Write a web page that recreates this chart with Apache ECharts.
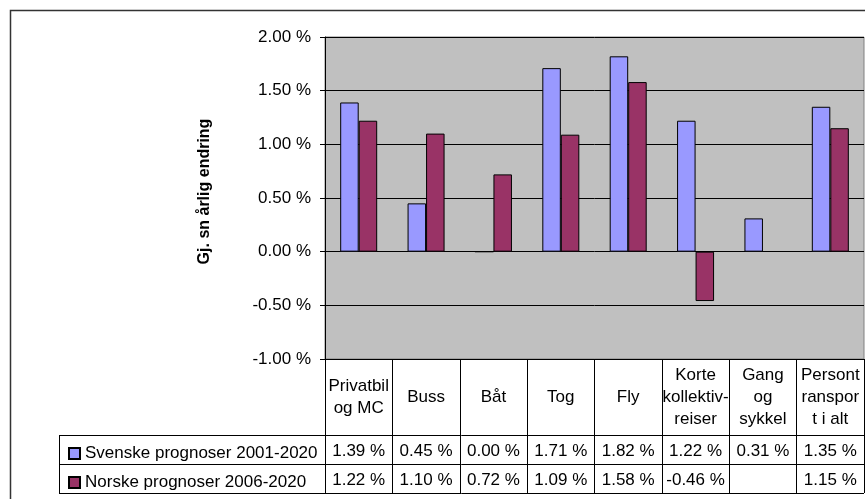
<!DOCTYPE html>
<html>
<head>
<meta charset="utf-8">
<script src="https://cdn.jsdelivr.net/npm/echarts@6/dist/echarts.min.js"></script>
<style>
  html, body { margin: 0; padding: 0; background: #fff; }
  #chart { width: 865px; height: 499px; }
</style>
</head>
<body>
<div id="chart"></div>
<script>
const categories = ['Privatbil\nog MC', 'Buss', 'Båt', 'Tog', 'Fly', 'Korte\nkollektiv-\nreiser', 'Gang\nog\nsykkel', 'Persont\nranspor\nt i alt'];
const seriesNames = ['Svenske prognoser 2001-2020', 'Norske prognoser 2006-2020'];
const svenske = [1.39, 0.45, 0.00, 1.71, 1.82, 1.22, 0.31, 1.35];
const norske = [1.22, 1.10, 0.72, 1.09, 1.58, -0.46, null, 1.15];
const yMin = -1, yMax = 2, yStep = 0.5;
const axisTitle = 'Gj. sn årlig endring';

const FONT = '"Liberation Sans", Arial, sans-serif';
const FS = 17;
const fmt = v => (v === null || v === undefined) ? '' : v.toFixed(2) + ' %';

const chart = echarts.init(document.getElementById('chart'));
chart.setOption({
  animation: false,
  textStyle: { fontFamily: FONT, color: '#000' },
  grid: {
    left: 325, right: 1, top: 37, bottom: 140,
    show: true, backgroundColor: '#C0C0C0', borderColor: '#808080', borderWidth: 1
  },
  legend: {
    orient: 'vertical', left: 63, top: 440, itemWidth: 11, itemHeight: 11, itemGap: 12,
    icon: 'rect', selectedMode: false,
    textStyle: { fontFamily: FONT, fontSize: FS, color: '#000' },
    data: seriesNames
  },
  xAxis: [
    {
      type: 'category', data: categories, position: 'bottom',
      axisLine: { onZero: false, lineStyle: { color: '#000', width: 1 } },
      axisTick: { show: true, length: 134, lineStyle: { color: '#000', width: 1 } },
      axisLabel: { interval: 0, margin: 38, verticalAlign: 'middle', align: 'center', lineHeight: 22, fontSize: FS, color: '#000', fontFamily: FONT },
      splitLine: { show: false }
    },
    {
      type: 'category', data: categories, position: 'bottom', offset: 92,
      axisLine: { show: false, onZero: false }, axisTick: { show: false },
      axisLabel: { interval: 0, margin: 0, verticalAlign: 'middle', align: 'center', fontSize: FS, color: '#000', fontFamily: FONT,
        formatter: (v, i) => fmt(svenske[i]) }
    },
    {
      type: 'category', data: categories, position: 'bottom', offset: 121,
      axisLine: { show: false, onZero: false }, axisTick: { show: false },
      axisLabel: { interval: 0, margin: 0, verticalAlign: 'middle', align: 'center', fontSize: FS, color: '#000', fontFamily: FONT,
        formatter: (v, i) => fmt(norske[i]) }
    }
  ],
  yAxis: {
    type: 'value', min: yMin, max: yMax, interval: yStep,
    name: axisTitle, nameLocation: 'middle', nameGap: 112,
    nameTextStyle: { fontFamily: FONT, fontSize: 16, fontWeight: 'bold', color: '#000', padding: [0, 0, 0, 13] },
    axisLine: { show: true, lineStyle: { color: '#000', width: 1 } },
    axisTick: { show: true, length: 5, lineStyle: { color: '#000' } },
    axisLabel: { margin: 14, fontSize: FS, color: '#000', fontFamily: FONT, formatter: v => v.toFixed(2) + ' %' },
    splitLine: { show: true, lineStyle: { color: '#000', width: 1 } }
  },
  series: [
    {
      name: seriesNames[0], type: 'bar', data: svenske, barWidth: 18.5, barGap: '0%',
      itemStyle: { color: '#9999FF', borderColor: '#000', borderWidth: 1 }
    },
    {
      name: seriesNames[1], type: 'bar', data: norske, barWidth: 18.5, barGap: '0%',
      itemStyle: { color: '#993366', borderColor: '#000', borderWidth: 1 }
    }
  ],
  graphic: [
    { type: 'rect', shape: { x: 10.5, y: 10.5, width: 900, height: 600 }, style: { fill: 'none', stroke: '#333', lineWidth: 1.5 }, silent: true },
    { type: 'line', shape: { x1: 59, y1: 435.5, x2: 864, y2: 435.5 }, style: { stroke: '#000', lineWidth: 1 }, silent: true },
    { type: 'line', shape: { x1: 59, y1: 464.5, x2: 864, y2: 464.5 }, style: { stroke: '#000', lineWidth: 1 }, silent: true },
    { type: 'line', shape: { x1: 59, y1: 493.5, x2: 864, y2: 493.5 }, style: { stroke: '#000', lineWidth: 1 }, silent: true },
    { type: 'line', shape: { x1: 59.5, y1: 435, x2: 59.5, y2: 494 }, style: { stroke: '#000', lineWidth: 1 }, silent: true }
  ]
});
</script>
</body>
</html>
